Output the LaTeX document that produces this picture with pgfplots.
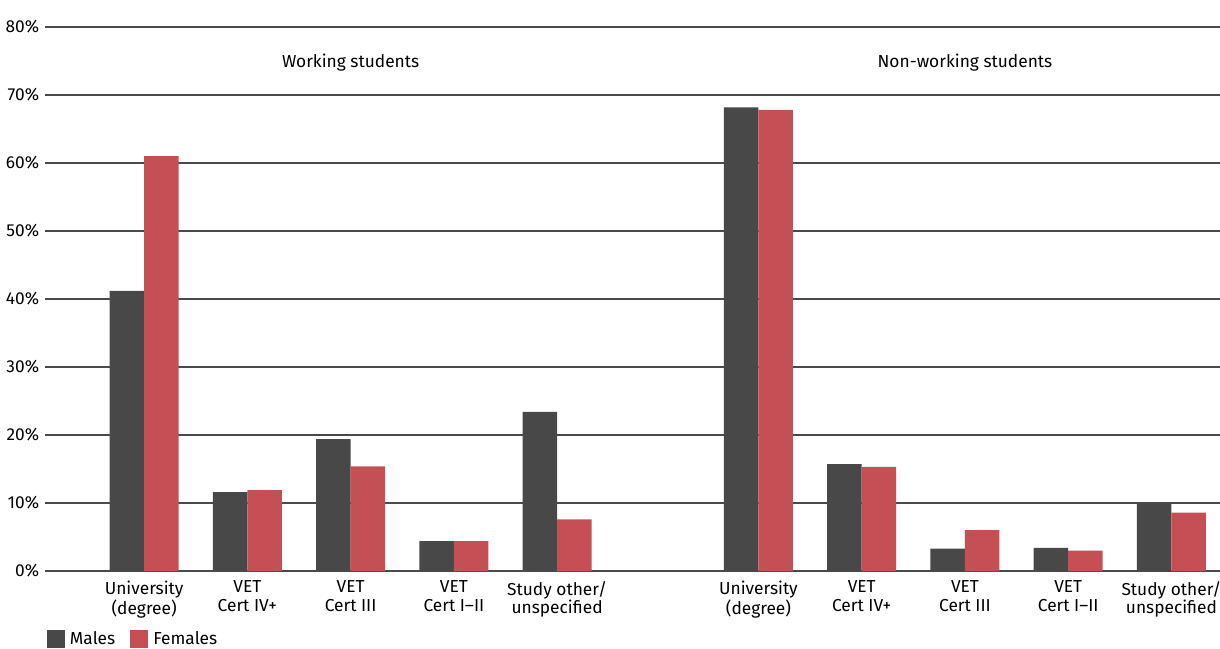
\documentclass[border=0pt]{standalone}
\usepackage{fontspec}
\setmainfont{Fira Sans}
\usepackage{pgfplots}
\pgfplotsset{compat=1.18}
\definecolor{males}{HTML}{484848}
\definecolor{females}{HTML}{C45055}
\definecolor{gridc}{HTML}{4A4A4A}
\begin{document}
\begin{tikzpicture}[font=\fontsize{10.4pt}{12pt}\selectfont]
\begin{axis}[
  at={(0,0)}, anchor=south west,
  scale only axis,
  width=705pt, height=326.4pt,
  xmin=-0.96, xmax=10.42,
  ymin=0, ymax=80,
  ytick={0,10,...,80},
  yticklabel={\pgfmathprintnumber{\tick}\%},
  /pgf/number format/assume math mode=true,
  ymajorgrids,
  grid style={gridc, line width=0.8pt},
  axis line style={draw=none},
  major tick length=0pt,
  yticklabel style={xshift=0pt},
  xtick={0,1,2,3,4,5.95,6.95,7.95,8.95,9.95},
  xticklabels={{University\\(degree)},{VET\\Cert IV+},{VET\\Cert III},{VET\\Cert I--II},{Study other/\\unspecified},
               {University\\(degree)},{VET\\Cert IV+},{VET\\Cert III},{VET\\Cert I--II},{Study other/\\unspecified}},
  xticklabel style={align=center, yshift=-2.5pt, font=\fontsize{10.4pt}{11pt}\selectfont},
  ybar=0pt, bar width=0.334,
  legend style={at={(0,0)}, anchor=north west, xshift=1pt, yshift=-35pt, draw=none, fill=none,
    inner sep=0pt, nodes={inner xsep=3pt, inner ysep=0pt},
    legend columns=2, /tikz/every even column/.append style={column sep=6pt}},
  legend image code/.code={\fill[#1] (0pt,-5.2pt) rectangle (10.8pt,5.6pt);},
  clip=false,
]
\addplot[fill=males, draw=none, bar shift=-0.167] coordinates {
 (0,41.2) (1,11.6) (2,19.4) (3,4.4) (4,23.4)
 (5.95,68.2) (6.95,15.7) (7.95,3.3) (8.95,3.4) (9.95,9.9)};
\addlegendentry{Males}
\addplot[fill=females, draw=none, bar shift=0.167] coordinates {
 (0,61.0) (1,11.9) (2,15.4) (3,4.4) (4,7.6)
 (5.95,67.8) (6.95,15.3) (7.95,6.0) (8.95,3.0) (9.95,8.6)};
\addlegendentry{Females}
\node at (axis cs:2,74.7) {Working students};
\node at (axis cs:7.95,74.7) {Non-working students};
\end{axis}
\pgfresetboundingbox
\path[use as bounding box] (-27pt,-46.2pt) rectangle (705pt,342.6pt);
\end{tikzpicture}
\end{document}
